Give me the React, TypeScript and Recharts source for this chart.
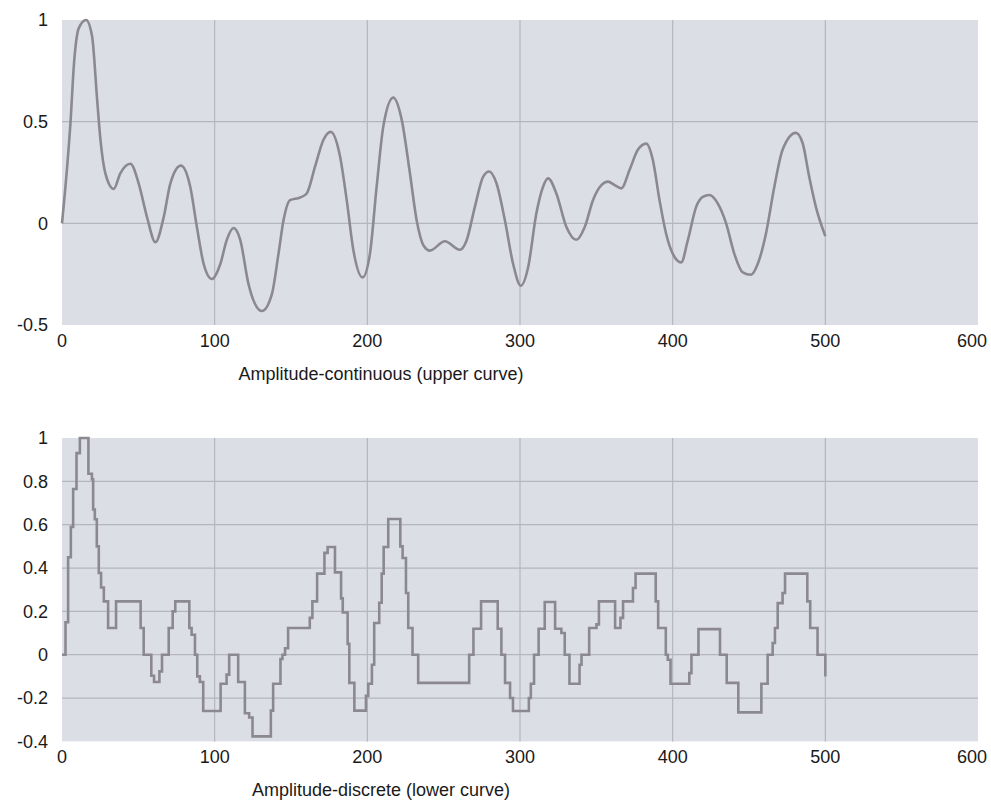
import { LineChart, Line, XAxis, YAxis, CartesianGrid } from 'recharts';

const xTicks = [0, 100, 200, 300, 400, 500, 600];
const gridX = [100, 200, 300, 400, 500];

// upper curve: amplitude-continuous
const upperX = [0, 3.4, 5.6, 7.8, 11.0, 15.8, 19.7, 23.0, 25.2, 28.4, 33.9, 38.2, 44.8, 50.2, 55.7, 61.2, 66.6, 71.0, 77.9, 84.0, 88.4, 92.8, 98.2, 103.7, 108.0, 112.4, 116.7, 122.2, 130.9, 137.4, 141.8, 145.1, 149.4, 156.0, 160.3, 165.8, 171.2, 176.0, 182.1, 186.5, 190.9, 196.9, 201.7, 206.1, 210.5, 217.0, 222.5, 227.9, 232.3, 236.9, 241.0, 250.8, 260.6, 265.0, 270.4, 275.9, 279.8, 284.6, 290.1, 295.5, 300.5, 305.3, 310.7, 315.1, 318.4, 323.8, 330.4, 336.9, 342.4, 347.8, 353.3, 357.6, 362.0, 366.3, 371.8, 377.2, 382.7, 387.0, 391.4, 395.7, 400.1, 405.6, 409.9, 415.4, 419.7, 424.1, 429.5, 435.0, 440.4, 445.9, 451.3, 455.7, 461.1, 466.6, 472.0, 480.7, 485.1, 489.4, 493.8, 500];
const upperY = [0, 0.28, 0.5, 0.78, 0.96, 1.0, 0.92, 0.61, 0.41, 0.246, 0.169, 0.246, 0.293, 0.197, 0.03, -0.093, 0.03, 0.197, 0.284, 0.18, -0.02, -0.2, -0.274, -0.2, -0.08, -0.023, -0.08, -0.3, -0.431, -0.35, -0.15, 0.015, 0.114, 0.127, 0.147, 0.28, 0.41, 0.45, 0.33, 0.114, -0.134, -0.266, -0.15, 0.18, 0.478, 0.618, 0.51, 0.246, 0.015, -0.11, -0.134, -0.088, -0.13, -0.084, 0.08, 0.23, 0.255, 0.197, 0.015, -0.2, -0.307, -0.217, 0.048, 0.18, 0.221, 0.147, -0.018, -0.081, -0.018, 0.114, 0.188, 0.205, 0.188, 0.172, 0.263, 0.362, 0.392, 0.312, 0.114, -0.051, -0.15, -0.192, -0.084, 0.081, 0.13, 0.139, 0.098, 0, -0.15, -0.241, -0.253, -0.2, -0.051, 0.18, 0.362, 0.445, 0.395, 0.23, 0.081, -0.063];

// lower curve: amplitude-discrete (step starts)
const lowerX = [0, 2.3, 4.0, 5.8, 7.3, 9.5, 11.7, 17.3, 19.6, 20.4, 21.5, 22.8, 24.1, 25.6, 27.4, 30.2, 35.4, 51.5, 53.5, 58.5, 60.3, 63.8, 65.5, 69.9, 72.5, 74.2, 83.4, 84.9, 87.1, 88.6, 90.3, 92.5, 103.9, 107.8, 109.5, 115.4, 119.8, 122.6, 124.8, 136.8, 138.3, 143.1, 144.4, 146.1, 148.1, 162.3, 164.0, 167.1, 171.9, 174.0, 178.8, 182.8, 183.9, 187.1, 188.2, 191.5, 199.1, 200.6, 203.0, 204.5, 207.8, 209.4, 210.7, 213.7, 221.6, 223.1, 225.3, 226.8, 229.6, 233.3, 266.7, 269.5, 274.5, 285.4, 287.8, 290.2, 293.5, 295.4, 305.8, 307.1, 309.2, 312.2, 316.2, 323.0, 327.1, 329.3, 332.4, 339.0, 340.3, 345.3, 350.1, 351.7, 362.3, 365.8, 367.5, 374.0, 375.7, 388.9, 390.5, 395.5, 396.8, 398.6, 410.9, 412.3, 416.9, 431.0, 435.4, 443.0, 458.1, 462.2, 465.5, 467.0, 468.8, 472.0, 473.6, 488.2, 490.1, 494.9, 500];
const lowerY = [0, 0.15, 0.45, 0.59, 0.765, 0.93, 1.0, 0.835, 0.81, 0.67, 0.625, 0.5, 0.377, 0.31, 0.246, 0.123, 0.246, 0.123, 0, -0.097, -0.126, -0.077, 0, 0.123, 0.2, 0.246, 0.123, 0.092, 0, -0.1, -0.126, -0.26, -0.134, -0.092, 0, -0.126, -0.27, -0.29, -0.377, -0.258, -0.134, -0.02, 0, 0.03, 0.123, 0.17, 0.246, 0.374, 0.47, 0.497, 0.38, 0.26, 0.195, 0.05, -0.13, -0.258, -0.19, -0.134, -0.046, 0.146, 0.24, 0.374, 0.497, 0.626, 0.5, 0.446, 0.285, 0.123, 0, -0.13, 0, 0.12, 0.246, 0.12, 0, -0.13, -0.2, -0.26, -0.2, -0.134, 0, 0.12, 0.243, 0.12, 0.1, 0, -0.134, -0.046, 0, 0.123, 0.14, 0.246, 0.123, 0.17, 0.246, 0.308, 0.374, 0.246, 0.123, 0, -0.023, -0.134, -0.085, 0, 0.118, 0, -0.13, -0.266, -0.134, 0, 0.054, 0.123, 0.238, 0.285, 0.374, 0.246, 0.123, 0, -0.1];

const upperTicks = [-0.5, 0, 0.5, 1];
const lowerTicks = [-0.4, -0.2, 0, 0.2, 0.4, 0.6, 0.8, 1];

const upperData = upperX.map((x, i) => ({ x, y: upperY[i] }));
const lowerData = lowerX.map((x, i) => ({ x, y: lowerY[i] }));

const FONT = '"Liberation Sans", Arial, sans-serif';
const tickStyle = { fill: '#1a1a1a', fontSize: 18, fontFamily: FONT };

// last x label is pulled in so it stays inside the page
function XTick({ x, y, payload }: any) {
    const shift = payload.value === 600 ? -6 : 0;
    return (
        <text x={x + shift} y={y} dy="0.71em" textAnchor="middle" {...tickStyle}>
            {payload.value}
        </text>
    );
}

function Panel({ data, kind, domain, ticks, gridY, height, bottom }: any) {
    return (
        <LineChart width={991} height={height} data={data} margin={{ top: 20, right: 13, left: 0, bottom }}>
            <CartesianGrid
                fill="#DCDEE6"
                fillOpacity={1}
                stroke="#B4B6BE"
                strokeWidth={1.2}
                verticalValues={gridX}
                horizontalValues={gridY}
            />
            <XAxis
                dataKey="x"
                type="number"
                domain={[0, 600]}
                ticks={xTicks}
                tickLine={false}
                axisLine={false}
                tickSize={0}
                tickMargin={9}
                height={30}
                tick={<XTick />}
                interval={0}
            />
            <YAxis
                type="number"
                domain={domain}
                ticks={ticks}
                tickLine={false}
                axisLine={false}
                tickSize={0}
                tickMargin={14}
                width={62}
                tick={tickStyle}
                interval={0}
            />
            <Line
                dataKey="y"
                type={kind}
                stroke="#8B8890"
                strokeWidth={2.6}
                dot={false}
                isAnimationActive={false}
            />
        </LineChart>
    );
}

const labelStyle: any = {
    position: 'absolute',
    left: 181,
    width: 400,
    textAlign: 'center',
    fontFamily: FONT,
    fontSize: 18,
    color: '#1a1a1a',
    lineHeight: '20px',
};

export default function App() {
    return (
        <div style={{ position: 'absolute', left: 0, top: 0, width: 991, height: 807, background: '#fff' }}>
            <div style={{ position: 'absolute', left: 0, top: 0 }}>
                <Panel data={upperData} kind="monotone" domain={[-0.5, 1]} ticks={upperTicks} gridY={[0, 0.5]} height={400} bottom={45} />
            </div>
            <div style={{ position: 'absolute', left: 0, top: 418 }}>
                <Panel data={lowerData} kind="stepAfter" domain={[-0.4, 1]} ticks={lowerTicks} gridY={[-0.2, 0, 0.2, 0.4, 0.6, 0.8]} height={389} bottom={35.6} />
            </div>
            <div style={{ ...labelStyle, top: 364 }}>Amplitude-continuous (upper curve)</div>
            <div style={{ ...labelStyle, top: 780 }}>Amplitude-discrete (lower curve)</div>
        </div>
    );
}
